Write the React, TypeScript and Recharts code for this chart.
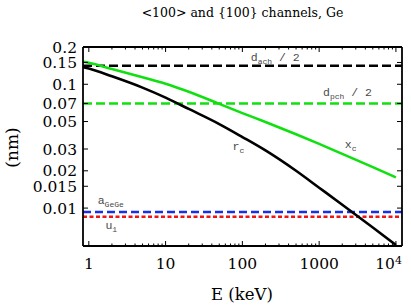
import React from 'react';
import { LineChart, Line, XAxis, YAxis, ReferenceLine, ReferenceDot } from 'recharts';

// E (keV) sample points
const energies = [0.84, 1, 2, 5, 10, 20, 50, 100, 200, 500, 1000, 2000, 5000, 10000];
// r_c (nm), black solid
const rcValues = [0.1375, 0.134, 0.116, 0.094, 0.078, 0.0632, 0.0477, 0.0375, 0.0292, 0.02, 0.0146, 0.01065, 0.00697, 0.00503];
// x_c (nm), green solid
const xcValues = [0.152, 0.149, 0.133, 0.114, 0.101, 0.087, 0.0695, 0.0585, 0.0496, 0.0395, 0.033, 0.0274, 0.0214, 0.0177];

// constant levels (nm)
const dAchHalf = 0.141;
const dPchHalf = 0.07;
const aGeGe = 0.0093;
const u1 = 0.0085;

const xMajorTicks = [1, 10, 100, 1000, 10000];
const xMinorTicks = [1, 10, 100, 1000].flatMap((d) => [2, 3, 4, 5, 6, 7, 8, 9].map((m) => m * d));
const yTicks = [0.2, 0.15, 0.1, 0.07, 0.05, 0.03, 0.02, 0.015, 0.01];

const data = energies.map((E, i) => ({ E, rc: rcValues[i], xc: xcValues[i] }));

const SERIF = '"DejaVu Serif", serif';
const MONO = '"Liberation Mono", "DejaVu Sans Mono", monospace';
const NOTE = '#4a4a4a';
const GREEN = '#10e010';

const X_DOMAIN = [0.84, 12000];
const Y_DOMAIN = [0.00494, 0.2];

const BottomTick = ({ x, y, payload }: any) => {
  const v = payload.value;
  const major = xMajorTicks.includes(v);
  return (
    <g>
      <line x1={x} x2={x} y1={y} y2={y - (major ? 5 : 2.5)} stroke="#000" strokeWidth={1} />
      {major &&
        (v === 10000 ? (
          <text x={x + 6} y={y + 23} textAnchor="end" fontFamily={SERIF} fontSize={15.5} fill="#000">
            10<tspan dy={-5} fontSize={11}>4</tspan>
          </text>
        ) : (
          <text x={x} y={y + 23} textAnchor="middle" fontFamily={SERIF} fontSize={15.5} fill="#000">
            {v}
          </text>
        ))}
    </g>
  );
};

const TopTick = ({ x, y, payload }: any) => {
  const major = xMajorTicks.includes(payload.value);
  return <line x1={x} x2={x} y1={y} y2={y + (major ? 5 : 2.5)} stroke="#000" strokeWidth={1} />;
};

const LeftTick = ({ x, y, payload }: any) => (
  <g>
    <line x1={x} x2={x + 5} y1={y} y2={y} stroke="#000" strokeWidth={1} />
    <text x={x - 6} y={y + 5.5} textAnchor="end" fontFamily={SERIF} fontSize={15.5} fill="#000">
      {String(payload.value)}
    </text>
  </g>
);

const RightTick = ({ x, y }: any) => <line x1={x - 5} x2={x} y1={y} y2={y} stroke="#000" strokeWidth={1} />;

// annotation text: main glyph, subscript, optional tail
const note = (main: string, sub: string, tail = '') => (props: any) => (
  <text x={props.cx} y={props.cy + 3} textAnchor="middle" fontFamily={MONO} fontSize={11.5} fill={NOTE}>
    {main}
    <tspan dy={3} fontSize={8}>{sub}</tspan>
    {tail && <tspan dy={-3} fontSize={11.5}>{tail}</tspan>}
  </text>
);

const frame = { stroke: '#000', strokeWidth: 1.8 };

export default function App() {
  return (
    <div style={{ position: 'absolute', left: 0, top: 0, width: 411, height: 307, background: '#fff' }}>
      <LineChart width={411} height={307} data={data} margin={{ top: 0, right: 0, bottom: 0, left: 0 }}>
        <XAxis
          dataKey="E"
          type="number"
          scale="log"
          domain={X_DOMAIN}
          allowDataOverflow
          ticks={[...xMajorTicks, ...xMinorTicks]}
          interval={0}
          height={61}
          tickSize={0}
          tickMargin={0}
          tickLine={false}
          axisLine={frame}
          tick={<BottomTick />}
        />
        <XAxis
          xAxisId="t"
          orientation="top"
          dataKey="E"
          type="number"
          scale="log"
          domain={X_DOMAIN}
          allowDataOverflow
          ticks={[...xMajorTicks, ...xMinorTicks]}
          interval={0}
          height={47}
          tickSize={0}
          tickMargin={0}
          tickLine={false}
          axisLine={frame}
          tick={<TopTick />}
        />
        <YAxis
          type="number"
          scale="log"
          domain={Y_DOMAIN}
          allowDataOverflow
          ticks={yTicks}
          interval={0}
          width={83}
          tickSize={0}
          tickMargin={0}
          tickLine={false}
          axisLine={frame}
          tick={<LeftTick />}
        />
        <YAxis
          yAxisId="r"
          orientation="right"
          type="number"
          scale="log"
          domain={Y_DOMAIN}
          allowDataOverflow
          ticks={yTicks}
          interval={0}
          width={9}
          tickSize={0}
          tickMargin={0}
          tickLine={false}
          axisLine={frame}
          tick={<RightTick />}
        />
        <ReferenceLine y={dAchHalf} stroke="#000" strokeWidth={2.6} strokeDasharray="9 4" />
        <ReferenceLine y={dPchHalf} stroke={GREEN} strokeWidth={2.6} strokeDasharray="9 4" />
        <ReferenceLine y={aGeGe} stroke="#1530e8" strokeWidth={2.6} strokeDasharray="8 4" />
        <ReferenceLine y={u1} stroke="#ee1515" strokeWidth={2.6} strokeDasharray="4 2.5" />
        <Line type="monotone" dataKey="rc" stroke="#000" strokeWidth={2.6} dot={false} isAnimationActive={false} />
        <Line type="monotone" dataKey="xc" stroke={GREEN} strokeWidth={2.6} dot={false} isAnimationActive={false} />
        <ReferenceDot x={268} y={0.162} r={0} shape={note('d', 'ach', ' / 2')} />
        <ReferenceDot x={2345} y={0.0846} r={0} shape={note('d', 'pch', ' / 2')} />
        <ReferenceDot x={89} y={0.0311} r={0} shape={note('r', 'c')} />
        <ReferenceDot x={2570} y={0.0322} r={0} shape={note('x', 'c')} />
        <ReferenceDot x={1.93} y={0.0114} r={0} shape={note('a', 'GeGe')} />
        <ReferenceDot x={1.96} y={0.00716} r={0} shape={note('u', '1')} />
      </LineChart>
      <svg width={411} height={307} style={{ position: 'absolute', left: 0, top: 0, pointerEvents: 'none' }}>
        <text x={242.5} y={16.5} textAnchor="middle" fontFamily={SERIF} fontSize={12.5} fill="#000">
          {'<100> and {100} channels, Ge'}
        </text>
        <text x={242} y={300} textAnchor="middle" fontFamily={SERIF} fontSize={16.5} fill="#000">
          E (keV)
        </text>
        <text x={18} y={147.5} textAnchor="middle" fontFamily={SERIF} fontSize={17} fill="#000" transform="rotate(-90 18 147.5)">
          (nm)
        </text>
      </svg>
    </div>
  );
}
